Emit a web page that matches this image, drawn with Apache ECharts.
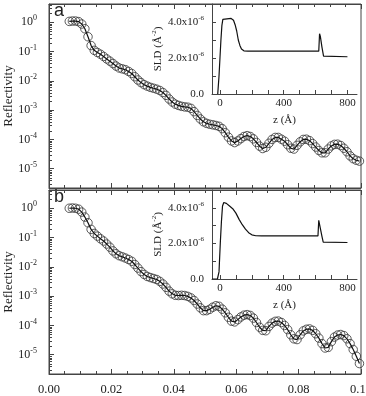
<!DOCTYPE html>
<html>
<head>
<meta charset="utf-8">
<script src="https://cdn.jsdelivr.net/npm/echarts@6/dist/echarts.min.js"></script>
<style>
html, body { margin: 0; padding: 0; background: #fff; }
#main { width: 366px; height: 396px; }
</style>
</head>
<body>
<div id="main"></div>
<script>
// scattering vector q (1/Å), same grid for both panels
var qValues = [0.0065,0.0075,0.0085,0.0095,0.0105,0.0115,0.0125,0.0135,0.0145,0.0155,
	0.0165,0.0175,0.0185,0.0195,0.0205,0.0215,0.0225,0.0235,0.0245,0.0255,
	0.0265,0.0275,0.0285,0.0295,0.0305,0.0315,0.0325,0.0335,0.0345,0.0355,
	0.0365,0.0375,0.0385,0.0395,0.0405,0.0415,0.0425,0.0435,0.0445,0.0455,
	0.0465,0.0475,0.0485,0.0495,0.0505,0.0515,0.0525,0.0535,0.0545,0.0555,
	0.0565,0.0575,0.0585,0.0595,0.0605,0.0615,0.0625,0.0635,0.0645,0.0655,
	0.0665,0.0675,0.0685,0.0695,0.0705,0.0715,0.0725,0.0735,0.0745,0.0755,
	0.0765,0.0775,0.0785,0.0795,0.0805,0.0815,0.0825,0.0835,0.0845,0.0855,
	0.0865,0.0875,0.0885,0.0895,0.0905,0.0915,0.0925,0.0935,0.0945,0.0955,
	0.0965,0.0975,0.0985,0.0995];

// panel a reflectivity
var reflA = [1.07,1.1,1.1,1.05,0.87,0.6,0.32,0.16,0.11,0.093,
	0.081,0.068,0.056,0.047,0.039,0.032,0.0275,0.0257,0.024,0.021,
	0.0178,0.0138,0.0107,0.0087,0.0074,0.0066,0.006,0.0056,0.0052,0.0047,
	0.004,0.0032,0.0024,0.0019,0.0016,0.00145,0.00135,0.00129,0.00126,0.00115,
	0.00089,0.00066,0.0005,0.0004,0.000355,0.00033,0.000316,0.0003,0.00028,0.000234,
	0.00017,0.00012,8.9e-5,7.8e-5,8.9e-5,1.07e-4,1.26e-4,1.35e-4,1.26e-4,1.05e-4,
	7.9e-5,5.9e-5,4.9e-5,5.4e-5,7.4e-5,1.0e-4,1.17e-4,1.17e-4,1.02e-4,8.7e-5,
	6.6e-5,5.0e-5,4.7e-5,6.3e-5,8.3e-5,1.0e-4,1.02e-4,9.1e-5,7.2e-5,5.5e-5,
	4.2e-5,3.5e-5,3.5e-5,4.7e-5,6.0e-5,6.8e-5,6.9e-5,6.2e-5,5.0e-5,3.8e-5,
	2.75e-5,2.2e-5,1.95e-5,1.82e-5];

// panel b reflectivity
var reflB = [1.0,1.02,1.0,0.93,0.74,0.5,0.32,0.19,0.138,0.112,
	0.091,0.076,0.06,0.047,0.035,0.028,0.024,0.022,0.02,0.0178,
	0.0155,0.012,0.0091,0.0069,0.0055,0.0047,0.0043,0.004,0.0037,0.0032,
	0.0026,0.002,0.00148,0.0012,0.00107,0.00105,0.00107,0.00105,0.00098,0.00087,
	0.00071,0.00054,0.0004,0.00032,0.00032,0.000355,0.00042,0.00047,0.00045,0.00036,
	0.00027,0.00019,0.00014,0.000132,0.000158,0.000195,0.000224,0.000234,0.000219,0.000178,
	0.000126,8.7e-5,6.8e-5,6.6e-5,9.3e-5,1.2e-4,1.38e-4,1.41e-4,1.26e-4,1.0e-4,
	7.2e-5,4.8e-5,3.5e-5,3.3e-5,4.8e-5,6.5e-5,7.4e-5,7.6e-5,6.8e-5,5.2e-5,
	3.7e-5,2.4e-5,1.7e-5,1.78e-5,2.8e-5,4.0e-5,4.7e-5,4.9e-5,4.5e-5,3.5e-5,
	2.4e-5,1.5e-5,8.9e-6,5.0e-6];

// SLD profiles (insets)
var sldZA = [-14,-6,0,6,12,18,30,70,85,95,105,115,125,135,150,175,620,625,630,640,650,660,800];
var sldA = [0,1.0e-6,2.0e-6,3.0e-6,3.8e-6,4.15e-6,4.2e-6,4.2e-6,4.1e-6,3.85e-6,3.5e-6,3.0e-6,2.7e-6,2.5e-6,2.4e-6,2.38e-6,2.38e-6,3.35e-6,3.2e-6,2.6e-6,2.1e-6,2.07e-6,2.07e-6];
var sldZB = [-50,-16,-6,2,9,16,24,40,60,80,100,120,140,160,180,200,225,260,615,620,625,632,640,648,800];
var sldB = [0,0,0.4e-6,2.0e-6,3.2e-6,4.1e-6,4.3e-6,4.25e-6,4.1e-6,3.95e-6,3.7e-6,3.35e-6,3.05e-6,2.8e-6,2.6e-6,2.48e-6,2.43e-6,2.42e-6,2.42e-6,3.3e-6,3.4e-6,3.2e-6,2.4e-6,2.07e-6,2.05e-6];

var insetZTicks = [0,100,200,300,400,500,600,700,800];
var insetZLabels = [0,400,800];
var insetSldLabels = [0,2e-6,4e-6];

var serif = '"Liberation Serif", "DejaVu Serif", serif';
var axisColor = '#444';
var textColor = '#222';
var gridLeft = 49;

var byId = function(id) {
	return document.getElementById(id);
};

function pairs(xs, ys) {
	var out = [];
	for (var i = 0; i < xs.length; i++) {
		out.push([xs[i], ys[i]]);
	}
	return out;
}

var supRich = {
	b: { fontFamily: serif, fontSize: 12, lineHeight: 16, color: textColor },
	s: { fontFamily: serif, fontSize: 8, lineHeight: 10, verticalAlign: 'top', color: textColor }
};
var supRichSmall = {
	b: { fontFamily: serif, fontSize: 11, lineHeight: 15, color: textColor },
	s: { fontFamily: serif, fontSize: 7, lineHeight: 9, verticalAlign: 'top', color: textColor }
};

function mainX(grid, pos, showLabel) {
	return {
		type: 'value',
		gridIndex: grid,
		position: pos,
		min: 0,
		max: 0.1,
		interval: 0.02,
		axisLine: { lineStyle: { color: axisColor, width: 1 } },
		axisTick: { inside: true, length: 5, lineStyle: { color: axisColor } },
		minorTick: { show: true, splitNumber: 4, length: 3, lineStyle: { color: axisColor } },
		splitLine: { show: false },
		axisLabel: {
			show: showLabel,
			margin: 9,
			fontFamily: serif,
			fontSize: 12.5,
			color: textColor,
			formatter: function(v) { return v.toFixed(2); }
		}
	};
}

function mainY(grid) {
	return {
		type: 'log',
		logBase: 10,
		gridIndex: grid,
		position: 'left',
		min: 2.2e-6,
		max: 4.2,
		name: 'Reflectivity',
		nameLocation: 'middle',
		nameGap: 34,
		nameMoveOverlap: false,
		nameTextStyle: { fontFamily: serif, fontSize: 13, color: textColor },
		axisLine: { lineStyle: { color: axisColor, width: 1 } },
		axisTick: { inside: true, length: 5, lineStyle: { color: axisColor } },
		splitLine: { show: false },
		axisLabel: {
			showMinLabel: false,
			showMaxLabel: false,
			margin: 12,
			formatter: function(v) {
				var e = Math.round(Math.log(v) / Math.LN10);
				return '{b|10}{s|' + e + '}';
			},
			rich: supRich
		}
	};
}

function insetX(grid) {
	return {
		type: 'value',
		gridIndex: grid,
		min: -50,
		max: 860,
		name: 'z (Å)',
		nameLocation: 'middle',
		nameGap: 21,
		nameTextStyle: { fontFamily: serif, fontSize: 11, color: textColor },
		axisLine: { onZero: false, lineStyle: { color: axisColor, width: 1 } },
		axisTick: { inside: true, length: 4, customValues: insetZTicks, lineStyle: { color: axisColor } },
		splitLine: { show: false },
		axisLabel: {
			customValues: insetZLabels,
			margin: 4,
			fontFamily: serif,
			fontSize: 11,
			color: textColor
		}
	};
}

function insetY(grid) {
	return {
		type: 'value',
		gridIndex: grid,
		min: 0,
		max: 5e-6,
		interval: 1e-6,
		name: '{b|SLD (Å}{s|-2}{b|)}',
		nameLocation: 'middle',
		nameGap: 44,
		nameTextStyle: { rich: supRichSmall },
		axisLine: { onZero: false, lineStyle: { color: axisColor, width: 1 } },
		axisTick: { inside: true, length: 4, lineStyle: { color: axisColor } },
		splitLine: { show: false },
		axisLabel: {
			customValues: insetSldLabels,
			margin: 8,
			formatter: function(v) {
				if (v === 0) return '{b|0.0}';
				return '{b|' + (v * 1e6).toFixed(1) + 'x10}{s|-6}';
			},
			rich: supRichSmall
		}
	};
}

function circles(xi, yi, data) {
	return {
		type: 'scatter',
		xAxisIndex: xi,
		yAxisIndex: yi,
		symbol: 'circle',
		symbolSize: 8.5,
		itemStyle: { color: 'rgba(255,255,255,0)', borderColor: '#333', borderWidth: 1 },
		data: data,
		z: 2
	};
}

function fitLine(xi, yi, data) {
	return {
		type: 'line',
		xAxisIndex: xi,
		yAxisIndex: yi,
		showSymbol: false,
		symbol: 'none',
		lineStyle: { color: '#111', width: 1.2 },
		data: data,
		z: 3
	};
}

var dataA = pairs(qValues, reflA);
var dataB = pairs(qValues, reflB);

var letters = [
	{ type: 'text', left: 54, top: 2, style: { text: 'a', font: '18px "Liberation Sans", Arial, sans-serif', fill: '#222' } },
	{ type: 'text', left: 54, top: 188, style: { text: 'b', font: '18px "Liberation Sans", Arial, sans-serif', fill: '#222' } }
];

function gridBox(left, right, top, height, framed) {
	return {
		left: left, right: right, top: top, height: height,
		containLabel: false,
		outerBoundsMode: 'none',
		show: framed,
		borderColor: axisColor,
		borderWidth: 1
	};
}

var option = {
	animation: false,
	backgroundColor: '#fff',
	grid: [
		gridBox(gridLeft, 5, 4, 184, true),
		gridBox(gridLeft, 5, 190, 184, true),
		gridBox(212, 9, 4, 90, false),
		gridBox(212, 9, 190, 89, false)
	],
	xAxis: [
		mainX(0, 'bottom', false),
		mainX(0, 'top', false),
		mainX(1, 'bottom', true),
		mainX(1, 'top', false),
		insetX(2),
		insetX(3)
	],
	yAxis: [
		mainY(0),
		mainY(1),
		insetY(2),
		insetY(3)
	],
	series: [
		circles(0, 0, dataA),
		fitLine(0, 0, dataA),
		circles(2, 1, dataB),
		fitLine(2, 1, dataB),
		fitLine(4, 2, pairs(sldZA, sldA)),
		fitLine(5, 3, pairs(sldZB, sldB))
	],
	graphic: letters
};

var chart = echarts.init(byId('main'), null, { renderer: 'canvas' });
chart.setOption(option);

// log minor ticks (2..9 in each decade), placed through the axis scale
var minorTicks = [];
for (var n = -6; n <= 0; n++) {
	for (var k = 2; k <= 9; k++) {
		var v = k * Math.pow(10, n);
		if (v <= 2.2e-6 || v >= 4.2) continue;
		for (var yi = 0; yi < 2; yi++) {
			var py = Math.round(chart.convertToPixel({ yAxisIndex: yi }, v)) + 0.5;
			minorTicks.push({
				type: 'line',
				silent: true,
				shape: { x1: gridLeft, y1: py, x2: gridLeft + 3, y2: py },
				style: { stroke: axisColor, lineWidth: 1 }
			});
		}
	}
}
chart.setOption({ graphic: letters.concat(minorTicks) });
</script>
</body>
</html>
